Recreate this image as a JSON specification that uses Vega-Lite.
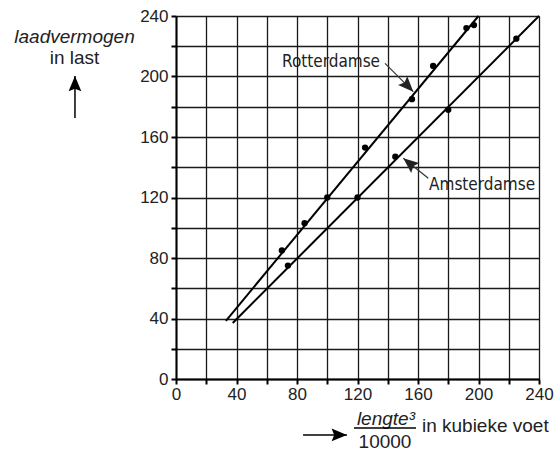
{
  "$schema": "https://vega.github.io/schema/vega-lite/v6.json",
  "width": 363,
  "height": 363,
  "autosize": {"type": "none"},
  "padding": {"left": 176, "top": 16, "right": 17, "bottom": 74},
  "background": "white",
  "config": {"view": {"stroke": null}},
  "datasets": {
    "pts": [
      {"serie": "Rotterdamse", "x": 70, "y": 85},
      {"serie": "Rotterdamse", "x": 85, "y": 103},
      {"serie": "Rotterdamse", "x": 100, "y": 120},
      {"serie": "Rotterdamse", "x": 125, "y": 153},
      {"serie": "Rotterdamse", "x": 156, "y": 185},
      {"serie": "Rotterdamse", "x": 170, "y": 207},
      {"serie": "Rotterdamse", "x": 192, "y": 232},
      {"serie": "Rotterdamse", "x": 197, "y": 234},
      {"serie": "Amsterdamse", "x": 74, "y": 75},
      {"serie": "Amsterdamse", "x": 120, "y": 120},
      {"serie": "Amsterdamse", "x": 145, "y": 147},
      {"serie": "Amsterdamse", "x": 180, "y": 178},
      {"serie": "Amsterdamse", "x": 225, "y": 225}
    ],
    "fits": [
      {"serie": "Rotterdamse", "x": 33, "y": 38.5},
      {"serie": "Rotterdamse", "x": 200, "y": 240},
      {"serie": "Amsterdamse", "x": 37.5, "y": 37},
      {"serie": "Amsterdamse", "x": 240, "y": 240}
    ],
    "pointers": [
      {"id": "r", "x": 138.2, "y": 208.7, "order": 0},
      {"id": "r", "x": 156.9, "y": 190, "order": 1},
      {"id": "a", "x": 166.8, "y": 132.7, "order": 0},
      {"id": "a", "x": 150.3, "y": 145.9, "order": 1}
    ],
    "heads": [
      {"id": "r", "x": 156.9, "y": 190, "angle": 136},
      {"id": "a", "x": 150.3, "y": 145.9, "angle": 309}
    ],
    "titlearrows": [
      {"id": "y", "x": -66.8, "y": 172.6, "order": 0},
      {"id": "y", "x": -66.8, "y": 200.3, "order": 1},
      {"id": "x", "x": 84, "y": -37, "order": 0},
      {"id": "x", "x": 113, "y": -37, "order": 1}
    ],
    "titleheads": [
      {"id": "y", "x": -66.8, "y": 200.3, "angle": 0},
      {"id": "x", "x": 113, "y": -37, "angle": 90}
    ]
  },
  "encoding": {
    "x": {
      "field": "x", "type": "quantitative",
      "scale": {"domain": [0, 240], "nice": false, "zero": false},
      "axis": {
        "values": [0, 20, 40, 60, 80, 100, 120, 140, 160, 180, 200, 220, 240],
        "labelExpr": "datum.value % 40 === 0 ? datum.label : ''",
        "title": null,
        "grid": true, "gridColor": "#1a1a1a", "gridWidth": 1.3, "gridOpacity": 1,
        "domainColor": "black", "domainWidth": 2,
        "tickColor": "black", "tickWidth": 2, "tickSize": 5,
        "labelFont": "Liberation Sans", "labelFontSize": 17, "labelColor": "#222",
        "labelPadding": 2, "labelFlush": false, "labelOverlap": false
      }
    },
    "y": {
      "field": "y", "type": "quantitative",
      "scale": {"domain": [0, 240], "nice": false, "zero": false},
      "axis": {
        "values": [0, 20, 40, 60, 80, 100, 120, 140, 160, 180, 200, 220, 240],
        "labelExpr": "datum.value % 40 === 0 ? datum.label : ''",
        "title": null,
        "grid": true, "gridColor": "#1a1a1a", "gridWidth": 1.3, "gridOpacity": 1,
        "domainColor": "black", "domainWidth": 2,
        "tickColor": "black", "tickWidth": 2, "tickSize": 5,
        "labelFont": "Liberation Sans", "labelFontSize": 17, "labelColor": "#222",
        "labelPadding": 3, "labelFlush": false, "labelOverlap": false
      }
    }
  },
  "layer": [
    {
      "data": {"name": "fits"},
      "mark": {"type": "line", "color": "black", "strokeWidth": 2},
      "encoding": {
        "detail": {"field": "serie"}
      }
    },
    {
      "data": {"name": "pts"},
      "mark": {"type": "circle", "color": "black", "size": 40, "opacity": 1},
      "encoding": {}
    },
    {
      "data": {"name": "pointers"},
      "mark": {"type": "line", "color": "#333", "strokeWidth": 1.2},
      "encoding": {
        "detail": {"field": "id"},
        "order": {"field": "order"}
      }
    },
    {
      "data": {"name": "heads"},
      "mark": {"type": "point", "shape": "M0,0L-0.5,1.2L0,1L0.5,1.2Z", "filled": true, "color": "#222", "opacity": 1, "size": 650},
      "encoding": {
        "angle": {"field": "angle", "type": "quantitative", "scale": null}
      }
    },
    {
      "data": {"name": "titlearrows"},
      "mark": {"type": "line", "color": "black", "strokeWidth": 1.5},
      "encoding": {
        "detail": {"field": "id"},
        "order": {"field": "order"}
      }
    },
    {
      "data": {"name": "titleheads"},
      "mark": {"type": "point", "shape": "M0,0L-0.5,1.2L0,1L0.5,1.2Z", "filled": true, "color": "black", "opacity": 1, "size": 650},
      "encoding": {
        "angle": {"field": "angle", "type": "quantitative", "scale": null}
      }
    },
    {
      "data": {"values": [{"x": 134.9, "y": 209.6, "label": "Rotterdamse"}]},
      "mark": {"type": "text", "align": "right", "baseline": "middle", "font": "DejaVu Sans Condensed, Roboto Condensed, Roboto", "fontSize": 17, "color": "#222"},
      "encoding": {
        "text": {"field": "label"}
      }
    },
    {
      "data": {"values": [{"x": 167.3, "y": 128.3, "label": "Amsterdamse"}]},
      "mark": {"type": "text", "align": "left", "baseline": "middle", "font": "DejaVu Sans Condensed, Roboto Condensed, Roboto", "fontSize": 17, "color": "#222"},
      "encoding": {
        "text": {"field": "label"}
      }
    },
    {
      "data": {"values": [
        {"x": -67.1, "y": 222, "label": "laadvermogen"},
        {"x": 138.8, "y": -30.4, "label": "lengte³"}
      ]},
      "mark": {"type": "text", "align": "center", "baseline": "alphabetic", "font": "Liberation Sans", "fontStyle": "italic", "fontSize": 19, "color": "#222"},
      "encoding": {
        "text": {"field": "label"}
      }
    },
    {
      "data": {"values": [
        {"x": -67.1, "y": 208.3, "label": "in last"},
        {"x": 138.2, "y": -45.6, "label": "10000"}
      ]},
      "mark": {"type": "text", "align": "center", "baseline": "alphabetic", "font": "Liberation Sans", "fontSize": 19, "color": "#222"},
      "encoding": {
        "text": {"field": "label"}
      }
    },
    {
      "data": {"values": [{"x": 162.6, "y": -34.8, "label": "in kubieke voet"}]},
      "mark": {"type": "text", "align": "left", "baseline": "alphabetic", "font": "Liberation Sans", "fontSize": 19, "color": "#222"},
      "encoding": {
        "text": {"field": "label"}
      }
    },
    {
      "data": {"values": [{"x": 117.7, "x2": 158.7, "y": -32.4}]},
      "mark": {"type": "rule", "color": "black", "strokeWidth": 1.3},
      "encoding": {
        "x2": {"field": "x2"}
      }
    }
  ]
}
